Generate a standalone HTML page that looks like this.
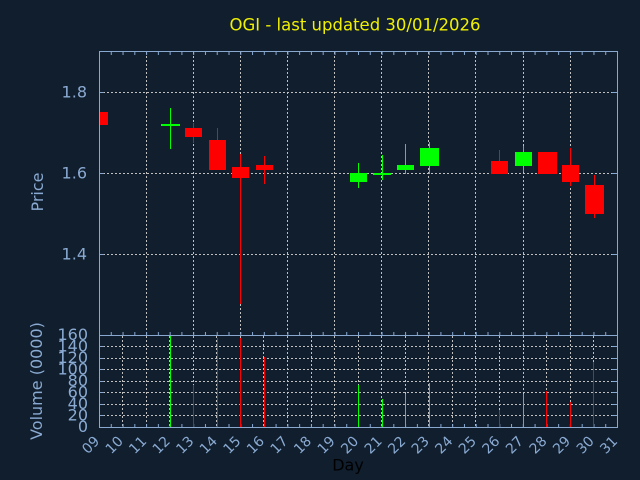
<!DOCTYPE html>
<html><head><meta charset="utf-8"><style>
html,body{margin:0;padding:0;background:#101e2e;}
svg{display:block;}
text{font-family:"DejaVu Sans","Liberation Sans",sans-serif;}
</style></head><body>
<svg width="640" height="480" viewBox="0 0 640 480" xmlns="http://www.w3.org/2000/svg">
<defs>
<pattern id="tk" patternUnits="userSpaceOnUse" x="99" y="0" width="11.7727" height="480">
<rect x="0" y="0" width="1" height="480" fill="#88a8d0"/>
</pattern>
</defs>
<rect width="640" height="480" fill="#101e2e"/>

<!-- title -->
<text x="355" y="30.5" font-size="16.5" fill="#f0f000" text-anchor="middle">OGI - last updated 30/01/2026</text>

<!-- price gridlines -->
<g stroke="#c0c0c0" stroke-width="1" stroke-dasharray="2 2" fill="none">
<path d="M103 92.5H617M103 173.5H617M103 254.5H617"/>
<path d="M146.5 52V335M193.5 52V335M240.5 52V335M287.5 52V335M334.5 52V335M381.5 52V335M428.5 52V335M475.5 52V335M523.5 52V335M570.5 52V335"/>
<!-- volume gridlines -->
<path d="M103 346.5H617M103 358.5H617M103 369.5H617M103 381.5H617M103 392.5H617M103 404.5H617M103 415.5H617"/>
<path d="M122.5 336V427M146.5 336V427M169.5 336V427M193.5 336V427M216.5 336V427M240.5 336V427M263.5 336V427M287.5 336V427M311.5 336V427M334.5 336V427M358.5 336V427M381.5 336V427M405.5 336V427M428.5 336V427M452.5 336V427M475.5 336V427M499.5 336V427M523.5 336V427M546.5 336V427M570.5 336V427M593.5 336V427"/>
</g>

<!-- minor ticks -->
<rect x="99" y="52" width="518" height="3" fill="url(#tk)"/>
<rect x="99" y="332" width="518" height="3" fill="url(#tk)"/>
<rect x="99" y="424" width="518" height="3" fill="url(#tk)"/>

<!-- axes -->
<g stroke="#88a8d0" stroke-width="1" fill="none">
<path d="M99.5 51V428M617.5 51V428M99 51.5H618M99 335.5H618M99 427.5H618"/>
<path d="M99 92.5H104M99 173.5H104M99 254.5H104M612 92.5H617M612 173.5H617M612 254.5H617"/>
<path d="M99 346.5H104M99 358.5H104M99 369.5H104M99 381.5H104M99 392.5H104M99 404.5H104M99 415.5H104"/>
<path d="M612 346.5H617M612 358.5H617M612 369.5H617M612 381.5H617M612 392.5H617M612 404.5H617M612 415.5H617"/>
</g>

<!-- candles -->
<g>
<rect x="100" y="112" width="8" height="13" fill="#ff0000"/>
<rect x="170" y="108" width="1" height="41" fill="#00ff00"/>
<rect x="161" y="124" width="19" height="2" fill="#00ff00"/>
<rect x="193" y="123" width="1" height="20" fill="#ff0000"/>
<rect x="185" y="128" width="17" height="9" fill="#ff0000"/>
<rect x="217" y="128" width="1" height="42" fill="#ff0000"/>
<rect x="209" y="140" width="17" height="30" fill="#ff0000"/>
<rect x="240" y="154" width="1" height="150" fill="#ff0000"/>
<rect x="232" y="167" width="17" height="11" fill="#ff0000"/>
<rect x="264" y="156" width="1" height="28" fill="#ff0000"/>
<rect x="256" y="165" width="17" height="5" fill="#ff0000"/>
<rect x="358" y="163" width="1" height="25" fill="#00ff00"/>
<rect x="350" y="173" width="17" height="9" fill="#00ff00"/>
<rect x="382" y="155" width="1" height="25" fill="#00ff00"/>
<rect x="373" y="173" width="18" height="2" fill="#00ff00"/>
<rect x="405" y="144" width="1" height="30" fill="#00ff00"/>
<rect x="397" y="165" width="17" height="5" fill="#00ff00"/>
<rect x="429" y="142" width="1" height="32" fill="#00ff00"/>
<rect x="420" y="148" width="19" height="18" fill="#00ff00"/>
<rect x="499" y="150" width="1" height="24" fill="#ff0000"/>
<rect x="491" y="161" width="17" height="13" fill="#ff0000"/>
<rect x="523" y="146" width="1" height="26" fill="#00ff00"/>
<rect x="515" y="152" width="17" height="14" fill="#00ff00"/>
<rect x="538" y="152" width="19" height="22" fill="#ff0000"/>
<rect x="570" y="148" width="1" height="38" fill="#ff0000"/>
<rect x="562" y="165" width="17" height="17" fill="#ff0000"/>
<rect x="594" y="175" width="1" height="43" fill="#ff0000"/>
<rect x="585" y="185" width="19" height="29" fill="#ff0000"/>
</g>

<!-- volume bars -->
<g>
<rect x="170" y="336" width="1" height="91" fill="#00ff00"/>
<rect x="193" y="385" width="1" height="42" fill="#ff0000"/>
<rect x="217" y="338" width="1" height="89" fill="#ff0000"/>
<rect x="240" y="338" width="1" height="89" fill="#ff0000"/>
<rect x="264" y="357" width="1" height="70" fill="#ff0000"/>
<rect x="358" y="385" width="1" height="42" fill="#00ff00"/>
<rect x="382" y="399" width="1" height="28" fill="#00ff00"/>
<rect x="405" y="394" width="1" height="33" fill="#00ff00"/>
<rect x="429" y="383" width="1" height="44" fill="#00ff00"/>
<rect x="499" y="410" width="1" height="17" fill="#ff0000"/>
<rect x="523" y="394" width="1" height="33" fill="#00ff00"/>
<rect x="546" y="391" width="1" height="36" fill="#ff0000"/>
<rect x="570" y="402" width="1" height="25" fill="#ff0000"/>
<rect x="593" y="362" width="1" height="65" fill="#ff0000"/>
</g>

<!-- y labels -->
<g fill="#8aaad2" font-size="16" text-anchor="end">
<text x="87" y="97.5">1.8</text>
<text x="87" y="178.5">1.6</text>
<text x="87" y="259.5">1.4</text>
<text x="88" y="340">160</text>
<text x="88" y="351.5">140</text>
<text x="88" y="363">120</text>
<text x="88" y="374.5">100</text>
<text x="88" y="386">80</text>
<text x="88" y="397.5">60</text>
<text x="88" y="409">40</text>
<text x="88" y="420.5">20</text>
<text x="88" y="432">0</text>
</g>
<g fill="#8aaad2" font-size="16" text-anchor="middle">
<text transform="translate(43,192) rotate(-90)">Price</text>
<text transform="translate(42,381) rotate(-90)">Volume (0000)</text>
</g>

<!-- x labels -->
<g fill="#8aaad2" font-size="14" text-anchor="end">
<text transform="translate(100.3,442) rotate(-45)">09</text>
<text transform="translate(123.9,442) rotate(-45)">10</text>
<text transform="translate(147.4,442) rotate(-45)">11</text>
<text transform="translate(170.9,442) rotate(-45)">12</text>
<text transform="translate(194.5,442) rotate(-45)">13</text>
<text transform="translate(218,442) rotate(-45)">14</text>
<text transform="translate(241.6,442) rotate(-45)">15</text>
<text transform="translate(265.1,442) rotate(-45)">16</text>
<text transform="translate(288.7,442) rotate(-45)">17</text>
<text transform="translate(312.2,442) rotate(-45)">18</text>
<text transform="translate(335.8,442) rotate(-45)">19</text>
<text transform="translate(359.3,442) rotate(-45)">20</text>
<text transform="translate(382.8,442) rotate(-45)">21</text>
<text transform="translate(406.4,442) rotate(-45)">22</text>
<text transform="translate(429.9,442) rotate(-45)">23</text>
<text transform="translate(453.5,442) rotate(-45)">24</text>
<text transform="translate(477,442) rotate(-45)">25</text>
<text transform="translate(500.6,442) rotate(-45)">26</text>
<text transform="translate(524.1,442) rotate(-45)">27</text>
<text transform="translate(547.7,442) rotate(-45)">28</text>
<text transform="translate(571.2,442) rotate(-45)">29</text>
<text transform="translate(594.8,442) rotate(-45)">30</text>
<text transform="translate(618.3,442) rotate(-45)">31</text>
</g>

<text x="348" y="470.5" font-size="16" fill="#000000" text-anchor="middle">Day</text>
</svg>
</body></html>
